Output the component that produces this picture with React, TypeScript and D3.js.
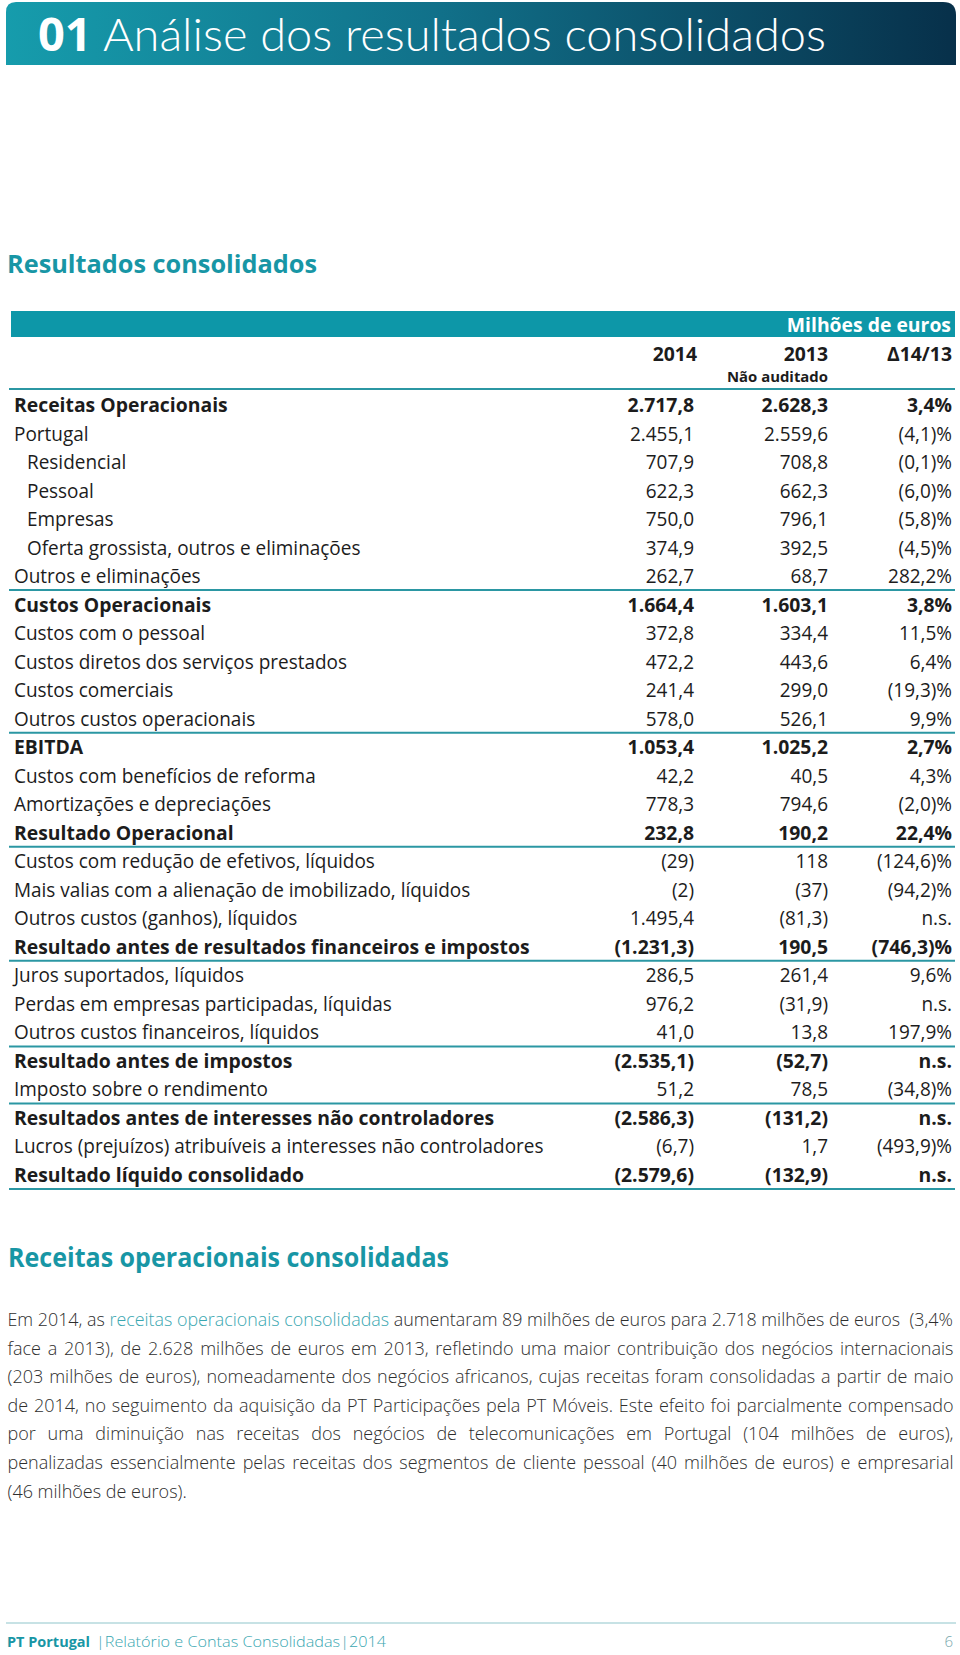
import React, { useLayoutEffect, useRef, useState } from "react";
import * as d3 from "d3";

const ROW_LABELS = [
  "Receitas Operacionais",
  "Portugal",
  "Residencial",
  "Pessoal",
  "Empresas",
  "Oferta grossista, outros e eliminações",
  "Outros e eliminações",
  "Custos Operacionais",
  "Custos com o pessoal",
  "Custos diretos dos serviços prestados",
  "Custos comerciais",
  "Outros custos operacionais",
  "EBITDA",
  "Custos com benefícios de reforma",
  "Amortizações e depreciações",
  "Resultado Operacional",
  "Custos com redução de efetivos, líquidos",
  "Mais valias com a alienação de imobilizado, líquidos",
  "Outros custos (ganhos), líquidos",
  "Resultado antes de resultados financeiros e impostos",
  "Juros suportados, líquidos",
  "Perdas em empresas participadas, líquidas",
  "Outros custos financeiros, líquidos",
  "Resultado antes de impostos",
  "Imposto sobre o rendimento",
  "Resultados antes de interesses não controladores",
  "Lucros (prejuízos) atribuíveis a interesses não controladores",
  "Resultado líquido consolidado",
];

const VAL_2014 = [
  "2.717,8", "2.455,1", "707,9", "622,3", "750,0", "374,9", "262,7",
  "1.664,4", "372,8", "472,2", "241,4", "578,0",
  "1.053,4", "42,2", "778,3", "232,8",
  "(29)", "(2)", "1.495,4", "(1.231,3)",
  "286,5", "976,2", "41,0", "(2.535,1)", "51,2", "(2.586,3)", "(6,7)", "(2.579,6)",
];

const VAL_2013 = [
  "2.628,3", "2.559,6", "708,8", "662,3", "796,1", "392,5", "68,7",
  "1.603,1", "334,4", "443,6", "299,0", "526,1",
  "1.025,2", "40,5", "794,6", "190,2",
  "118", "(37)", "(81,3)", "190,5",
  "261,4", "(31,9)", "13,8", "(52,7)", "78,5", "(131,2)", "1,7", "(132,9)",
];

const DELTA = [
  "3,4%", "(4,1)%", "(0,1)%", "(6,0)%", "(5,8)%", "(4,5)%", "282,2%",
  "3,8%", "11,5%", "6,4%", "(19,3)%", "9,9%",
  "2,7%", "4,3%", "(2,0)%", "22,4%",
  "(124,6)%", "(94,2)%", "n.s.", "(746,3)%",
  "9,6%", "n.s.", "197,9%", "n.s.", "(34,8)%", "n.s.", "(493,9)%", "n.s.",
];

const BOLD_ROWS = [0, 7, 12, 15, 19, 23, 25, 27];
const INDENT_ROWS = [2, 3, 4, 5];
const RULE_AFTER_ROWS = [6, 11, 15, 19, 22, 24, 27];
const COLUMN_HEADERS = ["2014", "2013", "Δ14/13"];

// first line is split in three parts: before, highlighted link, after
const PARA_FIRST = ["Em 2014, as ", "receitas operacionais consolidadas", " aumentaram 89 milhões de euros para 2.718 milhões de euros\u00a0 (3,4%"];
const PARAGRAPH_LINES = [
  "face a 2013), de 2.628 milhões de euros em 2013, refletindo uma maior contribuição dos negócios internacionais",
  "(203 milhões de euros), nomeadamente dos negócios africanos, cujas receitas foram consolidadas a partir de maio",
  "de 2014, no seguimento da aquisição da PT Participações pela PT Móveis. Este efeito foi parcialmente compensado",
  "por uma diminuição nas receitas dos negócios de telecomunicações em Portugal (104 milhões de euros),",
  "penalizadas essencialmente pelas receitas dos segmentos de cliente pessoal (40 milhões de euros) e empresarial",
  "(46 milhões de euros).",
];

const FONT = "'Open Sans', 'Noto Sans', sans-serif";
const TEAL = "#1896a5";
const RULE = "#2b97a3";
const INK = "#1c1c1c";

const REG_SAMPLE = "Lucros (prejuízos) atribuíveis a interesses não controladores";
const REG_TARGET = 530;
const BOLD_SAMPLE = "Resultado antes de resultados financeiros e impostos";
const BOLD_TARGET = 516;
const FS = 19.5;
const PARA_W = 946;
const PARA_FS = 18;

export default function App() {
  const regRef = useRef<SVGTextElement>(null);
  const boldRef = useRef<SVGTextElement>(null);
  const paraRefs = useRef<(SVGTextElement | null)[]>([]);
  const [sx, setSx] = useState({ reg: 0.9, bold: 0.9 });
  const [paraAdj, setParaAdj] = useState<{ scale: number; ws: number }[]>(
    Array.from({ length: 7 }, () => ({ scale: 1, ws: 0 }))
  );

  useLayoutEffect(() => {
    const r = regRef.current ? regRef.current.getComputedTextLength() : 0;
    const b = boldRef.current ? boldRef.current.getComputedTextLength() : 0;
    if (r > 0 && b > 0) setSx({ reg: REG_TARGET / r, bold: BOLD_TARGET / b });
    const texts = [PARA_FIRST.join(""), ...PARAGRAPH_LINES];
    const adj = texts.map((t, i) => {
      const el = paraRefs.current[i];
      const w = el ? el.getComputedTextLength() : 0;
      const spaces = (t.match(/ /g) || []).length;
      if (i === texts.length - 1 || w <= 0) return { scale: 1, ws: 0 };
      if (w > PARA_W) return { scale: PARA_W / w, ws: 0 };
      return { scale: 1, ws: (PARA_W - w) / Math.max(1, spaces) };
    });
    setParaAdj(adj);
  }, []);

  const yRow = d3.scaleLinear().domain([0, ROW_LABELS.length - 1]).range([412, 1182]);
  const colX = d3.scaleOrdinal<string, number>().domain(COLUMN_HEADERS).range([694, 828, 952]);
  const headX = d3.scaleOrdinal<string, number>().domain(COLUMN_HEADERS).range([697, 828, 952]);
  const paraY = d3.scaleLinear().domain([0, 6]).range([1326, 1497.6]);

  const txt = (x: number, y: number, s: string, bold: boolean, anchor: string, key?: string, fill = INK, size = FS) => (
    <text
      key={key}
      transform={`translate(${x},${y}) scale(${bold ? sx.bold : sx.reg},1)`}
      textAnchor={anchor}
      fontFamily={FONT}
      fontWeight={bold ? 700 : 400}
      fontSize={size}
      fill={fill}
    >
      {s}
    </text>
  );

  return (
    <svg
      width={960}
      height={1655}
      style={{ position: "absolute", left: 0, top: 0, background: "#fff" }}
    >
      <defs>
        <linearGradient id="titleGrad" x1="0" x2="1" y1="0" y2="0">
          <stop offset="0" stopColor="#169cac" />
          <stop offset="0.45" stopColor="#11718a" />
          <stop offset="1" stopColor="#07304a" />
        </linearGradient>
      </defs>
      {/* hidden measuring texts */}
      <text ref={regRef} x={0} y={-50} fontFamily={FONT} fontSize={FS} fontWeight={400} visibility="hidden">
        {REG_SAMPLE}
      </text>
      <text ref={boldRef} x={0} y={-50} fontFamily={FONT} fontSize={FS} fontWeight={700} visibility="hidden">
        {BOLD_SAMPLE}
      </text>
      {[PARA_FIRST.join(""), ...PARAGRAPH_LINES].map((t, i) => (
        <text
          key={"m" + i}
          ref={(el) => {
            paraRefs.current[i] = el;
          }}
          x={0}
          y={-80}
          fontFamily={FONT}
          fontSize={PARA_FS}
          fontWeight={300}
          visibility="hidden"
        >
          {t}
        </text>
      ))}

      {/* title bar */}
      <path
        d="M6,65 L6,12 Q6,2 16,2 L943,2 Q956,2 956,15 L956,65 Z"
        fill="url(#titleGrad)"
      />
      <text x={38} y={51} fontFamily={FONT} fontSize={46} fill="#fff" textLength={788} lengthAdjust="spacingAndGlyphs">
        <tspan fontWeight={700}>01</tspan>
        <tspan fontWeight={300} fontFamily="Lato, 'Open Sans', sans-serif"> Análise dos resultados consolidados</tspan>
      </text>

      {/* section heading */}
      <text x={7} y={273} fontFamily={FONT} fontSize={25} fontWeight={700} fill={TEAL} textLength={310} lengthAdjust="spacingAndGlyphs">
        Resultados consolidados
      </text>

      {/* table header */}
      <rect x={11} y={311} width={944} height={26} fill="#0d97a8" />
      {txt(951, 332, "Milhões de euros", true, "end", "unit", "#fff")}
      {COLUMN_HEADERS.map((h) => txt(headX(h), 361, h, true, "end", "h" + h))}
      {txt(828, 382, "Não auditado", true, "end", "na", INK, 15)}
      <line x1={9} x2={955} y1={389} y2={389} stroke={RULE} strokeWidth={2} />

      {/* rows */}
      {ROW_LABELS.map((label, i) => {
        const bold = BOLD_ROWS.includes(i);
        const y = yRow(i);
        const x = INDENT_ROWS.includes(i) ? 27 : 14;
        return (
          <g key={"r" + i}>
            {txt(x, y, label, bold, "start")}
            {txt(colX("2014"), y, VAL_2014[i], bold, "end")}
            {txt(colX("2013"), y, VAL_2013[i], bold, "end")}
            {txt(colX("Δ14/13"), y, DELTA[i], bold, "end")}
          </g>
        );
      })}
      {RULE_AFTER_ROWS.map((i) => (
        <line key={"l" + i} x1={9} x2={955} y1={yRow(i) + 7} y2={yRow(i) + 7} stroke={RULE} strokeWidth={2} />
      ))}

      {/* second heading */}
      <text x={8} y={1267} fontFamily={FONT} fontSize={26} fontWeight={700} fill={TEAL} textLength={441} lengthAdjust="spacingAndGlyphs">
        Receitas operacionais consolidadas
      </text>

      {/* paragraph */}
      <text
        transform={`translate(7.5,${paraY(0)}) scale(${paraAdj[0].scale},1)`}
        fontFamily={FONT}
        fontSize={PARA_FS}
        fontWeight={300}
        fill="#2e2e2e"
        wordSpacing={paraAdj[0].ws}
      >
        <tspan>{PARA_FIRST[0]}</tspan>
        <tspan fill="#3aa7b1">{PARA_FIRST[1]}</tspan>
        <tspan>{PARA_FIRST[2]}</tspan>
      </text>
      {PARAGRAPH_LINES.map((line, i) => (
        <text
          key={"p" + i}
          transform={`translate(7.5,${paraY(i + 1)}) scale(${paraAdj[i + 1].scale},1)`}
          fontFamily={FONT}
          fontSize={PARA_FS}
          fontWeight={300}
          fill="#2e2e2e"
          wordSpacing={paraAdj[i + 1].ws}
        >
          {line}
        </text>
      ))}

      {/* footer */}
      <line x1={6} x2={956} y1={1623} y2={1623} stroke="#b4d8dc" strokeWidth={1.5} />
      <text x={7} y={1647} fontFamily={FONT} fontSize={15} fontWeight={700} fill={TEAL} textLength={83} lengthAdjust="spacingAndGlyphs">
        PT Portugal
      </text>
      <text x={96} y={1647} fontFamily={FONT} fontSize={15} fontWeight={300} fill="#3aa7b1" textLength={290} lengthAdjust="spacingAndGlyphs">
        |Relatório e Contas Consolidadas|2014
      </text>
      <text x={953} y={1647} textAnchor="end" fontFamily={FONT} fontSize={15} fontWeight={300} fill="#7aa9ae">
        6
      </text>
    </svg>
  );
}
